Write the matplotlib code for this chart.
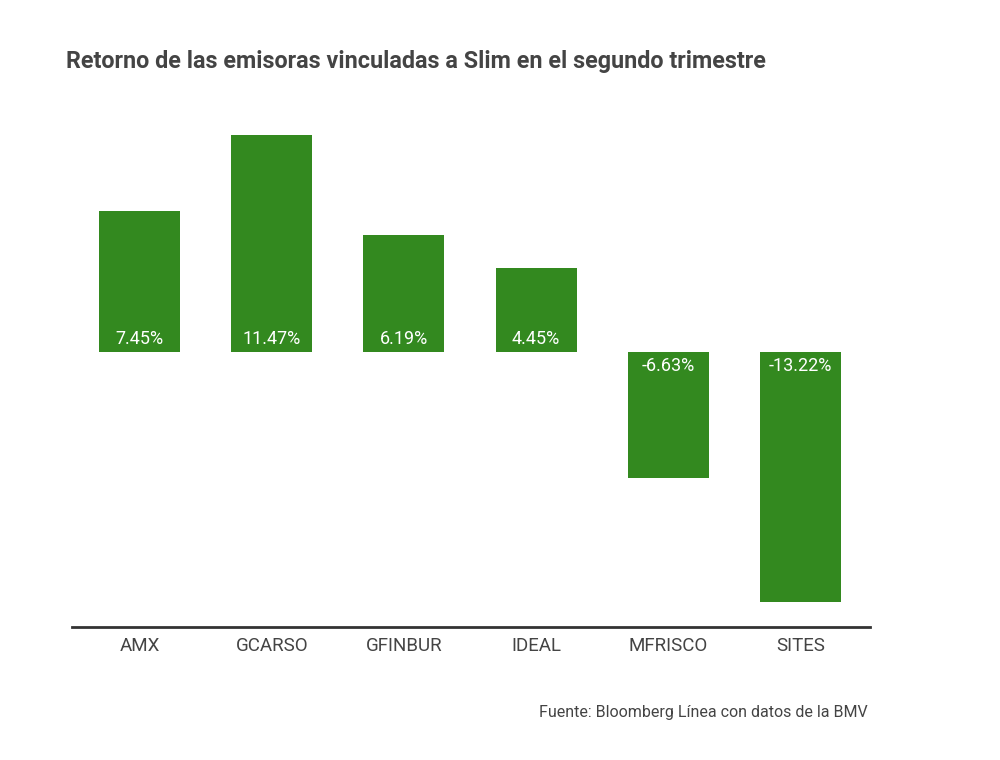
import matplotlib
matplotlib.use("Agg")
from matplotlib import pyplot as plt

tickers = ["AMX", "GCARSO", "GFINBUR", "IDEAL", "MFRISCO", "SITES"]
returns = [7.45, 11.47, 6.19, 4.45, -6.63, -13.22]
labels = ["7.45%", "11.47%", "6.19%", "4.45%", "-6.63%", "-13.22%"]

plt.rcParams["font.family"] = ["Roboto", "DejaVu Sans"]

fig = plt.figure(figsize=(10, 7.6), dpi=100)
ax = fig.add_axes([0.072, 0.175, 0.798, 0.667])

green = "#33891f"
x = range(len(tickers))
ax.bar(x, returns, width=0.614, color=green)

for i, (v, lab) in enumerate(zip(returns, labels)):
    if v >= 0:
        ax.text(i, 0.68, lab, ha="center", va="center", color="white", fontsize=13)
    else:
        ax.text(i, -0.75, lab, ha="center", va="center", color="white", fontsize=13)

ax.set_xlim(-0.511, 5.526)
ax.set_ylim(-14.53, 12.26)
ax.set_xticks(list(x))
ax.set_xticklabels(tickers, fontsize=13.5, color="#444444")
ax.tick_params(axis="x", length=0, pad=7)
ax.set_yticks([])
for s in ["top", "right", "left"]:
    ax.spines[s].set_visible(False)
ax.spines["bottom"].set_color("#333333")
ax.spines["bottom"].set_linewidth(2)

fig.text(0.066, 0.919, "Retorno de las emisoras vinculadas a Slim en el segundo trimestre",
         fontsize=16.8, fontweight="bold", color="#444444", va="center")
fig.text(0.868, 0.063, "Fuente: Bloomberg Línea con datos de la BMV",
         fontsize=11.5, color="#444444", ha="right", va="center")

fig.savefig("out.png", dpi=100)
